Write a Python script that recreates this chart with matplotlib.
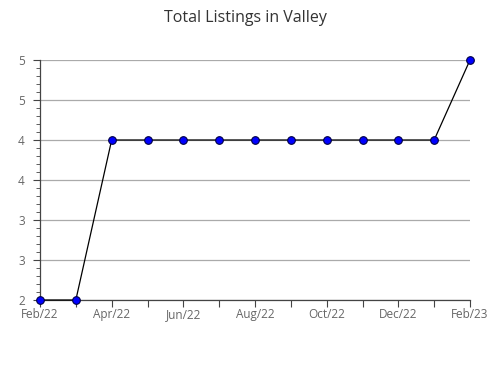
import matplotlib
matplotlib.use("Agg")
import matplotlib.pyplot as plt
from matplotlib.ticker import MultipleLocator

# data
months = ['Feb/22', 'Mar/22', 'Apr/22', 'May/22', 'Jun/22', 'Jul/22', 'Aug/22',
          'Sep/22', 'Oct/22', 'Nov/22', 'Dec/22', 'Jan/23', 'Feb/23']
listings = [2, 2, 4, 4, 4, 4, 4, 4, 4, 4, 4, 4, 5]
y_ticks = [2, 2.5, 3, 3.5, 4, 4.5, 5]
y_labels = ['2', '3', '3', '4', '4', '5', '5']

plt.rcParams['font.family'] = ['Open Sans', 'DejaVu Sans']

fig = plt.figure(figsize=(4.9, 3.8), dpi=100)
ax = fig.add_axes([40 / 490, 80 / 380, 430 / 490, 240 / 380])

x = list(range(len(months)))
ax.plot(x, listings, color='black', linewidth=0.9, marker='o', markersize=5.5,
        markerfacecolor='#0000ff', markeredgecolor='#000044', markeredgewidth=0.8,
        clip_on=False, zorder=3)

ax.set_xlim(0, len(months) - 1)
ax.set_ylim(2, 5)
ax.set_xticks(x)
ax.set_xticklabels([m if i % 2 == 0 else '' for i, m in enumerate(months)])
ax.set_yticks(y_ticks)
ax.set_yticklabels(y_labels)
ax.yaxis.set_minor_locator(MultipleLocator(0.1))

ax.grid(axis='y', color='#aaaaaa', linewidth=0.9)
ax.set_axisbelow(True)
for s in ['top', 'right']:
    ax.spines[s].set_visible(False)
for s in ['left', 'bottom']:
    ax.spines[s].set_color('#444444')
    ax.spines[s].set_linewidth(0.9)

ax.tick_params(axis='both', labelsize=8.5, colors='#444444', labelcolor='#666666')
ax.tick_params(axis='x', length=5, pad=1)
ax.tick_params(axis='y', which='major', length=5, pad=6)
ax.tick_params(axis='y', which='minor', length=3, colors='#444444')

fig.suptitle('Total Listings in Valley', y=0.975, fontsize=11.5, color='#333333')

fig.savefig('out.png', dpi=100)
